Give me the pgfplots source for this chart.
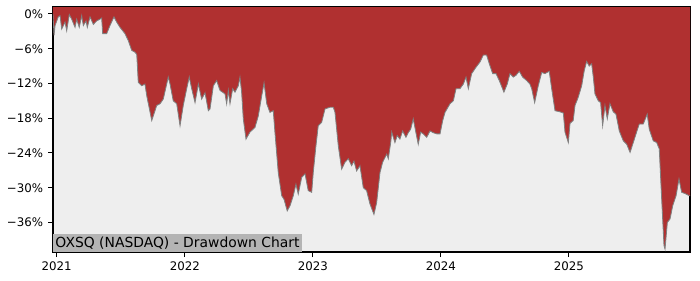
\documentclass[border=0pt]{standalone}
\usepackage{pgfplots}
\usepackage{pgfplotstable}
\pgfplotsset{compat=1.18}
\usepackage{fontspec}
\setmainfont{DejaVu Sans}
\usetikzlibrary{calc}
\definecolor{ddred}{RGB}{176,48,48}
\definecolor{bgg}{RGB}{238,238,238}
\definecolor{lblg}{RGB}{180,180,180}
\definecolor{edgeg}{RGB}{128,128,128}
\pgfplotstableread{
x y
2020.971 2
2020.971 0
2020.979 -3.7
2020.987 -2.0
2021.012 -0.5
2021.026 -0.3
2021.039 -2.6
2021.065 -1.4
2021.078 -2.9
2021.098 -0.1
2021.117 -0.9
2021.143 -2.3
2021.156 -0.9
2021.176 -2.3
2021.195 -0.3
2021.208 -2.0
2021.229 -1.2
2021.239 -2.3
2021.260 -0.5
2021.286 -1.8
2021.312 -1.2
2021.338 -0.9
2021.351 -0.7
2021.359 -3.4
2021.390 -3.4
2021.416 -2.0
2021.447 -0.5
2021.468 -1.4
2021.494 -2.3
2021.533 -3.4
2021.559 -4.6
2021.586 -6.3
2021.611 -6.6
2021.625 -7.0
2021.637 -11.8
2021.664 -12.4
2021.689 -12.1
2021.703 -14.1
2021.742 -18.4
2021.754 -17.6
2021.781 -15.8
2021.807 -15.5
2021.832 -14.7
2021.871 -10.9
2021.885 -12.1
2021.910 -15.0
2021.937 -15.5
2021.963 -19.3
2021.988 -15.8
2022.015 -12.9
2022.035 -10.9
2022.054 -12.9
2022.080 -15.3
2022.106 -12.1
2022.132 -14.7
2022.158 -13.6
2022.184 -16.7
2022.197 -16.4
2022.223 -12.4
2022.249 -11.5
2022.275 -13.2
2022.314 -13.8
2022.327 -15.5
2022.340 -13.2
2022.353 -15.5
2022.374 -12.9
2022.392 -13.5
2022.418 -12.4
2022.431 -10.9
2022.444 -13.5
2022.457 -18.1
2022.478 -21.6
2022.509 -20.4
2022.548 -19.6
2022.574 -17.6
2022.601 -14.1
2022.619 -11.9
2022.640 -15.5
2022.665 -17.0
2022.691 -16.7
2022.704 -20.4
2022.730 -27.4
2022.757 -31.4
2022.775 -32.0
2022.800 -34.0
2022.822 -33.1
2022.847 -31.4
2022.868 -29.4
2022.886 -31.1
2022.913 -28.2
2022.939 -27.6
2022.964 -30.5
2022.991 -30.8
2023.003 -27.4
2023.024 -22.8
2023.042 -19.3
2023.069 -18.7
2023.095 -16.4
2023.134 -16.1
2023.160 -16.1
2023.173 -17.0
2023.199 -22.8
2023.225 -26.8
2023.251 -25.6
2023.277 -25.0
2023.303 -26.2
2023.321 -25.4
2023.342 -27.1
2023.368 -26.2
2023.394 -30.0
2023.420 -30.5
2023.446 -32.8
2023.477 -34.6
2023.498 -32.6
2023.524 -27.4
2023.545 -25.6
2023.563 -24.8
2023.577 -24.2
2023.589 -25.0
2023.608 -22.2
2023.616 -20.4
2023.641 -22.2
2023.659 -21.0
2023.680 -21.6
2023.701 -20.2
2023.727 -21.3
2023.745 -20.5
2023.764 -19.9
2023.784 -18.1
2023.805 -20.5
2023.823 -22.5
2023.842 -20.4
2023.862 -20.7
2023.889 -21.3
2023.915 -20.2
2023.940 -20.5
2023.967 -20.7
2023.993 -20.7
2024.014 -18.4
2024.032 -17.0
2024.071 -15.5
2024.097 -15.0
2024.118 -12.9
2024.149 -12.9
2024.175 -12.1
2024.196 -10.9
2024.214 -12.9
2024.240 -10.3
2024.274 -9.2
2024.305 -8.3
2024.331 -7.1
2024.357 -7.1
2024.378 -8.6
2024.404 -10.3
2024.430 -10.3
2024.456 -11.5
2024.492 -13.5
2024.518 -12.1
2024.539 -10.3
2024.565 -10.9
2024.586 -10.6
2024.612 -9.9
2024.638 -10.9
2024.670 -11.5
2024.695 -12.1
2024.709 -12.9
2024.732 -15.3
2024.760 -12.4
2024.787 -10.1
2024.812 -10.3
2024.846 -9.9
2024.865 -12.9
2024.891 -16.7
2024.930 -16.9
2024.956 -17.1
2024.969 -20.4
2024.995 -22.2
2025.008 -18.9
2025.033 -18.4
2025.047 -15.8
2025.072 -14.4
2025.099 -12.4
2025.119 -9.8
2025.138 -8.2
2025.158 -9.0
2025.177 -8.6
2025.190 -10.9
2025.203 -13.8
2025.229 -15.0
2025.247 -15.3
2025.263 -19.3
2025.281 -15.8
2025.299 -18.1
2025.320 -15.5
2025.346 -16.9
2025.367 -17.3
2025.393 -20.2
2025.424 -21.9
2025.451 -22.5
2025.477 -23.9
2025.502 -22.2
2025.528 -20.4
2025.549 -19.0
2025.580 -19.0
2025.611 -17.3
2025.627 -19.9
2025.658 -21.9
2025.685 -22.2
2025.705 -23.3
2025.724 -32.0
2025.742 -40.0
2025.750 -40.6
2025.768 -36.0
2025.789 -35.4
2025.810 -33.1
2025.836 -31.4
2025.859 -28.5
2025.880 -30.8
2025.906 -31.0
2025.940 -31.4
2025.945 -31.4
2025.945 2
}\ddtable
\begin{document}
\begin{tikzpicture}
\begin{axis}[
  scale only axis,
  width=458.64pt, height=176.4pt,
  xmin=2020.971, xmax=2025.945,
  ymin=-41.1, ymax=1.2,
  axis background/.style={fill=bgg},
  axis line style={line width=0.8pt},
  tick align=outside,
  major tick length=3.6pt,
  tick style={line width=0.7pt, black},
  xtick={2021,2022,2023,2024,2025},
  xticklabels={2021,2022,2023,2024,2025},
  ytick={-36,-30,-24,-18,-12,-6,0},
  yticklabels={−36\%,−30\%,−24\%,−18\%,−12\%,−6\%,0\%},
  ticklabel style={font=\fontsize{8.5}{10}\selectfont},
  xtick pos=bottom, ytick pos=left,
  clip=true,
]
\addplot[fill=ddred, draw=none] table[x=x, y=y] {\ddtable} -- cycle;
\addplot[draw=edgeg, line width=0.6pt, restrict y to domain=-50:1] table[x=x, y=y] {\ddtable};
\coordinate (sw) at (rel axis cs:0,0);
\coordinate (ne) at (rel axis cs:1,1);
\node[anchor=south west, fill=lblg, inner xsep=1.6pt, inner ysep=2pt, font=\fontsize{10}{12}\selectfont] at (rel axis cs:0,0) {OXSQ (NASDAQ) - Drawdown Chart};
\end{axis}
\pgfresetboundingbox
\path[use as bounding box] ($(sw)+(-38.16pt,-20.16pt)$) rectangle ($(ne)+(7.2pt,5.04pt)$);
\end{tikzpicture}
\end{document}
